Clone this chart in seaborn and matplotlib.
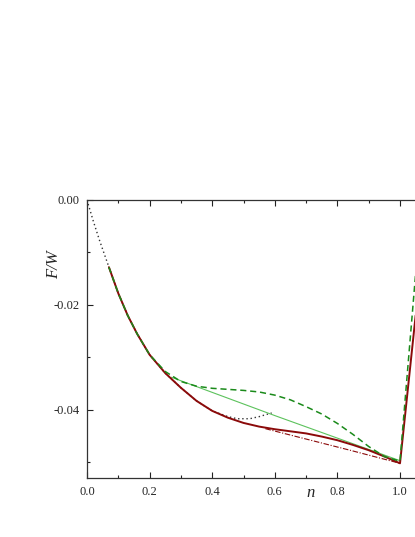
#! /usr/bin/env python3
import seaborn as sns
import matplotlib.pyplot as plt
from matplotlib.ticker import MultipleLocator, FormatStrFormatter

# Main free energy branch (shared by the red solid curve and the start of the green dashed one)
N_MAIN = [0.07, 0.10, 0.13, 0.16, 0.20, 0.25, 0.30, 0.35, 0.40, 0.45, 0.50, 0.55,
          0.60, 0.65, 0.70, 0.75, 0.80, 0.85, 0.90, 0.95, 1.00, 1.05]
F_MAIN = [-0.0128, -0.0178, -0.0220, -0.0255, -0.0295, -0.0330, -0.0358, -0.0383,
          -0.0402, -0.0415, -0.0425, -0.0432, -0.0437, -0.0441, -0.0445, -0.0451,
          -0.0458, -0.0467, -0.0477, -0.0489, -0.0502, -0.0220]

# Black dotted curve: low density part and the unstable branch
N_DOT = [0.0, 0.02, 0.04, 0.07, 0.10, 0.13, 0.16, 0.20, 0.25, 0.30, 0.35, 0.40,
         0.45, 0.48, 0.52, 0.55, 0.59]
F_DOT = [0.0, -0.0040, -0.0077, -0.0128, -0.0178, -0.0220, -0.0255, -0.0295,
         -0.0330, -0.0358, -0.0383, -0.0402, -0.0413, -0.0417, -0.0417, -0.0413, -0.0406]

# Green dashed curve (second model)
N_GREEN = [0.07, 0.10, 0.13, 0.16, 0.20, 0.25, 0.30, 0.35, 0.40, 0.45, 0.50, 0.55,
           0.60, 0.65, 0.70, 0.75, 0.80, 0.85, 0.90, 0.95, 1.00, 1.05]
F_GREEN = [-0.0128, -0.0178, -0.0220, -0.0255, -0.0295, -0.0327, -0.0346, -0.0355,
           -0.0359, -0.0361, -0.0363, -0.0366, -0.0372, -0.0381, -0.0394, -0.0408,
           -0.0426, -0.0447, -0.0470, -0.0489, -0.0498, -0.0140]

# Common tangent constructions
N_TANGENT_GREEN = [0.27, 0.60, 1.00]
F_TANGENT_GREEN = [-0.0338, -0.0411, -0.0497]
N_TANGENT_RED = [0.57, 0.84, 1.00]
F_TANGENT_RED = [-0.0436, -0.0477, -0.0502]

DARK_RED = '#8b0a0a'
GREEN = '#1a8a1a'
LIGHT_GREEN = '#5cc25c'


def main():
    sns.set_style('ticks')
    plt.rcParams['font.family'] = ['Liberation Serif', 'DejaVu Serif']
    plt.rcParams['axes.unicode_minus'] = False

    f = plt.figure(figsize=(4.15, 5.37), dpi=100)
    # axes runs past the right edge of the figure (as in the original crop)
    ax = f.add_axes([87 / 415, 1 - 478 / 537, 344.3 / 415, 278 / 537])

    sns.lineplot(x=N_DOT, y=F_DOT, ax=ax, color='#333333', linestyle=(0, (1, 2)),
                 linewidth=1.0, sort=False, estimator=None)
    sns.lineplot(x=N_TANGENT_GREEN, y=F_TANGENT_GREEN, ax=ax, color=LIGHT_GREEN,
                 linewidth=0.8, sort=False, estimator=None)
    sns.lineplot(x=N_TANGENT_RED, y=F_TANGENT_RED, ax=ax, color=DARK_RED,
                 linestyle=(0, (5, 1.5, 1, 1.5)), linewidth=0.8, sort=False, estimator=None)
    sns.lineplot(x=N_MAIN, y=F_MAIN, ax=ax, color=DARK_RED, linewidth=1.4,
                 sort=False, estimator=None)
    sns.lineplot(x=N_GREEN, y=F_GREEN, ax=ax, color=GREEN, linestyle=(0, (4, 2.5)),
                 linewidth=1.1, sort=False, estimator=None)

    ax.set_xlim(0, 1.1)
    ax.set_ylim(-0.053, 0.0)
    ax.xaxis.set_major_locator(MultipleLocator(0.2))
    ax.xaxis.set_minor_locator(MultipleLocator(0.1))
    ax.yaxis.set_major_locator(MultipleLocator(0.02))
    ax.yaxis.set_minor_locator(MultipleLocator(0.01))
    ax.xaxis.set_major_formatter(FormatStrFormatter('%0.1f'))
    ax.yaxis.set_major_formatter(FormatStrFormatter('%0.2f'))

    for side in ['left', 'bottom', 'top', 'right']:
        ax.spines[side].set_color('#333333')
        ax.spines[side].set_linewidth(0.9)
    ax.tick_params(which='both', direction='in', top=True, right=False,
                   color='#222222', width=0.8, labelsize=9, pad=5.5)
    ax.tick_params(which='major', length=4)
    ax.tick_params(which='minor', length=2.5)

    ax.set_xlabel('n', fontstyle='italic', fontsize=12)
    ax.set_ylabel('F/W', fontstyle='italic', fontsize=12)
    ax.xaxis.set_label_coords(0.648, -0.025)
    ax.yaxis.set_label_coords(-0.072, 0.766)

    f.savefig('out.png', dpi=100)


if __name__ == "__main__":
    main()
